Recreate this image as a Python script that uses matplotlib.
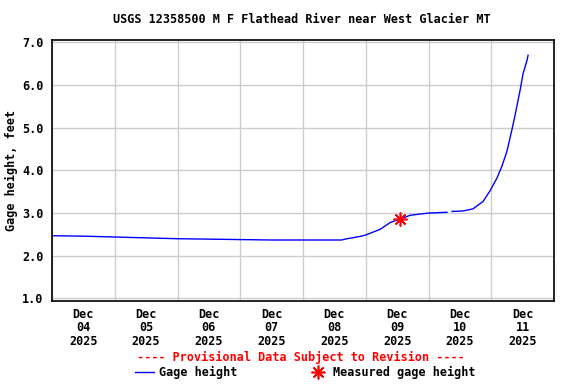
import pandas as pd
import matplotlib
matplotlib.use("Agg")
import matplotlib.pyplot as plt
from matplotlib.lines import Line2D

# gage height readings
times = ["2025-12-04 00:00", "2025-12-04 12:00", "2025-12-05 00:00", "2025-12-05 12:00",
         "2025-12-06 00:00", "2025-12-06 12:00", "2025-12-07 00:00", "2025-12-07 12:00",
         "2025-12-08 00:00", "2025-12-08 14:50", "2025-12-08 16:50", "2025-12-08 20:40",
         "2025-12-08 23:40", "2025-12-09 05:30", "2025-12-09 09:20", "2025-12-09 13:05",
         "2025-12-09 17:00", "2025-12-09 23:50", "2025-12-10 07:05", "2025-12-10 07:30",
         "2025-12-10 09:00", "2025-12-10 13:10", "2025-12-10 17:00", "2025-12-10 19:40",
         "2025-12-10 20:50", "2025-12-10 23:30", "2025-12-11 02:10", "2025-12-11 04:05",
         "2025-12-11 06:00", "2025-12-11 08:00", "2025-12-11 09:05", "2025-12-11 11:00",
         "2025-12-11 12:10", "2025-12-11 13:40", "2025-12-11 14:05"]
gage = [2.47, 2.46, 2.44, 2.42, 2.40, 2.39, 2.38, 2.37,
        2.37, 2.37, 2.40, 2.44,
        2.48, 2.62, 2.78, 2.86,
        2.95, 3.00, 3.02, None,
        3.04, 3.05, 3.10, 3.22,
        3.27, 3.52, 3.82, 4.10,
        4.45, 4.98, 5.29, 5.87,
        6.27, 6.58, 6.70]

meas_time = ["2025-12-09 13:05"]
meas_val = [2.86]

day_labels = ["Dec\n04\n2025", "Dec\n05\n2025", "Dec\n06\n2025", "Dec\n07\n2025",
              "Dec\n08\n2025", "Dec\n09\n2025", "Dec\n10\n2025", "Dec\n11\n2025"]

t = pd.to_datetime(times)
g = pd.Series(gage, dtype=float)
mt = pd.to_datetime(meas_time)

font = "DejaVu Sans Mono"
fs = 8.5

fig = plt.figure(figsize=(5.76, 3.84), dpi=100)
ax = fig.add_axes([52/576, 1 - 301/384, 502/576, 261.5/384])

ax.plot(t, g, color="blue", lw=1)
ax.plot(mt, meas_val, ls="none", marker=(8, 2, 0), ms=10, mec="red", mew=1.2)

start = pd.Timestamp("2025-12-04")
ax.set_xlim(start, pd.Timestamp("2025-12-12"))
ax.set_ylim(0.94, 7.07)

ax.set_xticks(pd.date_range(start, periods=9, freq="D"))
ax.set_xticklabels([])
ax.set_xticks(pd.date_range("2025-12-04 12:00", periods=8, freq="D"), minor=True)
ax.set_xticklabels(day_labels, minor=True, fontfamily=font, fontweight="bold", fontsize=fs,
                   linespacing=1.05)
ax.set_yticks([1, 2, 3, 4, 5, 6, 7])
ax.set_yticklabels(["%.1f" % v for v in range(1, 8)], fontfamily=font, fontweight="bold", fontsize=fs)
ax.tick_params(axis="both", which="both", length=0, pad=6)
ax.tick_params(axis="x", which="minor", pad=5)

ax.grid(True, which="major", color="#cccccc", lw=1)
ax.set_axisbelow(True)
for s in ax.spines.values():
    s.set_linewidth(1.2)

ax.set_ylabel("Gage height, feet", fontfamily=font, fontweight="bold", fontsize=fs, labelpad=3)

fig.text(0.524, 0.948, "USGS 12358500 M F Flathead River near West Glacier MT",
         ha="center", va="center", fontfamily=font, fontweight="bold", fontsize=fs)
fig.text(0.523, 0.068, "---- Provisional Data Subject to Revision ----", color="red",
         ha="center", va="center", fontfamily=font, fontweight="bold", fontsize=fs)

handles = [Line2D([], [], color="blue", lw=1),
           Line2D([], [], ls="none", marker=(8, 2, 0), ms=10, mec="red", mew=1.2)]
fig.legend(handles, ["Gage height", "Measured gage height"], loc="center",
           bbox_to_anchor=(0.530, 0.029), ncol=2, frameon=False, handlelength=1.6,
           handletextpad=0.5, columnspacing=6.0,
           prop={"family": font, "weight": "bold", "size": fs})

fig.savefig("out.png", dpi=100)
